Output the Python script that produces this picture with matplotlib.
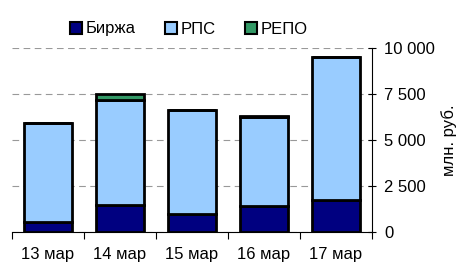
import matplotlib
matplotlib.use("Agg")
import matplotlib.pyplot as plt
import numpy as np
from matplotlib.ticker import FuncFormatter

categories = ["13 мар", "14 мар", "15 мар", "16 мар", "17 мар"]
birzha = [550, 1470, 960, 1410, 1740]
rps = [5400, 5700, 5670, 4860, 7750]
repo = [0, 310, 0, 60, 0]
yticks = [0, 2500, 5000, 7500, 10000]

plt.rcParams['font.family'] = ['Liberation Sans', 'DejaVu Sans']

fig = plt.figure(figsize=(4.65, 2.64), dpi=100)
ax = fig.add_axes([12/465, 32/264, 360/465, 184/264])

x = np.arange(len(categories))
w = 0.67
lw = 2.0
b = np.array(birzha); r = np.array(rps); p = np.array(repo)
ax.bar(x, b, w, color='#000080', edgecolor='black', linewidth=lw, label='Биржа', zorder=3)
ax.bar(x, r, w, bottom=b, color='#99CCFF', edgecolor='black', linewidth=lw, label='РПС', zorder=3)
ax.bar(x, p, w, bottom=b + r, color='#339966', edgecolor='black', linewidth=lw, label='РЕПО', zorder=3)

ax.set_xlim(-0.5, len(categories) - 0.5)
ax.set_ylim(0, 10000)
ax.set_yticks(yticks)
ax.yaxis.set_major_formatter(FuncFormatter(lambda v, pos: f"{int(v):,}".replace(",", " ")))
ax.yaxis.tick_right()
ax.yaxis.set_label_position('right')
ax.set_ylabel('млн. руб.', fontsize=12, labelpad=4)
ax.tick_params(axis='y', direction='inout', length=6, width=0.8, labelsize=12, pad=6)

ax.set_xticks(np.arange(-0.5, len(categories), 1.0))
ax.set_xticklabels([])
ax.set_xticks(x, minor=True)
ax.set_xticklabels(categories, minor=True, fontsize=12)
ax.tick_params(axis='x', which='major', direction='out', length=5, width=0.8)
ax.tick_params(axis='x', which='minor', length=0, pad=11)

for s in ['top', 'left']:
    ax.spines[s].set_visible(False)
ax.spines['right'].set_color('black')
ax.spines['bottom'].set_color('black')
ax.spines['right'].set_linewidth(0.8)
ax.spines['bottom'].set_linewidth(0.8)

ax.yaxis.grid(True, linestyle=(0, (6, 4)), color='#999999', linewidth=0.8, zorder=0)
ax.set_axisbelow(True)

leg = fig.legend(loc='center left', bbox_to_anchor=(70/465, 1 - 29/264), ncol=3, frameon=False,
                 fontsize=12, handlelength=0.7, handleheight=0.7, handletextpad=0.25,
                 columnspacing=1.75, borderpad=0, borderaxespad=0)
for h in leg.legend_handles:
    h.set_linewidth(1.5)

fig.text(0.43, 1.0 + 4/264, 'Объем торгов акциями, млн. руб.', ha='center', va='baseline',
         fontsize=13, fontweight='bold')

fig.savefig('out.png', dpi=100)
